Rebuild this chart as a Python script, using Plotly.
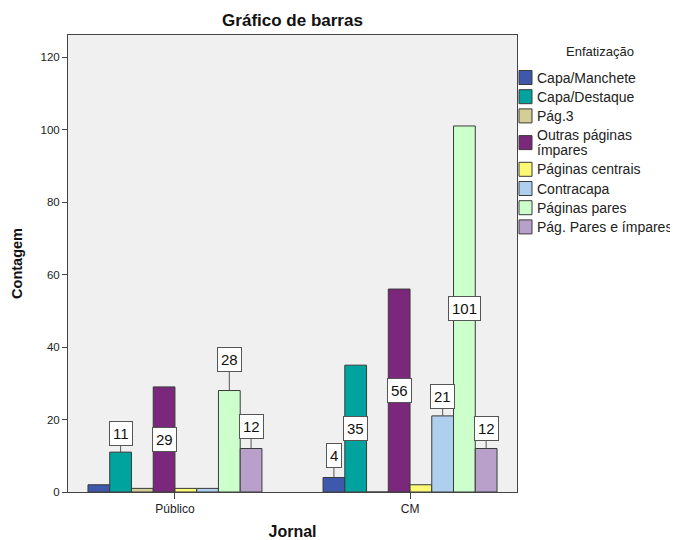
import plotly.graph_objects as go

# ---------------- data ----------------
jornais = ["Público", "CM"]
enfatizacao = [
    "Capa/Manchete",
    "Capa/Destaque",
    "Pág.3",
    "Outras páginas\nímpares",
    "Páginas centrais",
    "Contracapa",
    "Páginas pares",
    "Pág. Pares e ímpares",
]
publico = [2, 11, 1, 29, 1, 1, 28, 12]
cm = [4, 35, 0, 56, 2, 21, 101, 12]
y_ticks = [0, 20, 40, 60, 80, 100, 120]

# ---------------- style ----------------
colors = ["#3E58AC", "#00A39E", "#D4CE96", "#7B287C",
          "#FBF873", "#AED0EE", "#CCFFCC", "#B9A0CB"]
# label placement: "in" = centred inside bar, number = pixel offset above bar top
label_place = {
    ("Público", 1): -19, ("Público", 3): "in", ("Público", 6): -31, ("Público", 7): -22,
    ("CM", 0): -22, ("CM", 1): "in", ("CM", 3): "in", ("CM", 5): -19,
    ("CM", 6): "in", ("CM", 7): -20,
}
FONT = "Arial, Liberation Sans, sans-serif"
OFF = 8                      # page body margin
W, H = 678 - OFF, 540 - OFF  # figure size
# plot area in screen pixels
SL, SR, ST, SB = 68, 517, 35, 492
L, R, T, B = SL - OFF, SR - OFF, ST - OFF, SB - OFF
BARGAP = 0.26

series = {"Público": publico, "CM": cm}
n = len(enfatizacao)

fig = go.Figure()
for i, name in enumerate(enfatizacao):
    fig.add_trace(go.Bar(
        x=jornais,
        y=[series[j][i] for j in jornais],
        name=name.replace("\n", " "),
        marker=dict(color=colors[i], line=dict(color="#3a3a3a", width=1)),
        showlegend=False,
        hoverinfo="x+y+name",
    ))

# value labels
bw = (1 - BARGAP) / n
annotations = []
for gi, j in enumerate(jornais):
    for i in range(n):
        key = (j, i)
        if key not in label_place:
            continue
        v = series[j][i]
        xpos = gi + (i - (n - 1) / 2) * bw
        place = label_place[key]
        common = dict(x=xpos, xref="x", yref="y", text=str(v),
                      font=dict(family=FONT, size=15, color="#111"),
                      bgcolor="white", bordercolor="#555", borderwidth=1, borderpad=3)
        if place == "in":
            annotations.append(dict(y=v / 2, showarrow=False, **common))
        else:
            annotations.append(dict(y=v, showarrow=True, arrowhead=0, arrowwidth=1,
                                    arrowcolor="#555", ax=0, ay=place, standoff=0, **common))

# manual legend (positions given in screen pixels)
def px2paper(px, py):
    return (px - SL) / (SR - SL), (SB - py) / (SB - ST)

tx, ty = px2paper(600, 51)
annotations.append(dict(x=tx, y=ty, xref="paper", yref="paper", text="Enfatização",
                        showarrow=False, xanchor="center", yanchor="middle",
                        font=dict(family=FONT, size=13, color="#222")))
shapes = []
ycur = 77.5
step = 19.2
line_gap = 15
for i, name in enumerate(enfatizacao):
    lines = name.split("\n")
    nl = len(lines)
    center = ycur + (nl - 1) * line_gap / 2
    x0, y0 = px2paper(519, center - 7)
    x1, y1 = px2paper(532, center + 7)
    shapes.append(dict(type="rect", xref="paper", yref="paper", x0=x0, x1=x1, y0=y1, y1=y0,
                       fillcolor=colors[i], line=dict(color="#3a3a3a", width=1)))
    for k, ln in enumerate(lines):
        ax_, ay_ = px2paper(535, ycur + k * line_gap)
        annotations.append(dict(x=ax_, y=ay_, xref="paper", yref="paper", text=ln,
                                showarrow=False, xanchor="left", yanchor="middle",
                                font=dict(family=FONT, size=14, color="#222")))
    ycur += step + (nl - 1) * line_gap

fig.update_layout(
    width=W, height=H,
    margin=dict(l=L, r=W - R, t=T, b=H - B, autoexpand=False),
    barmode="group", bargap=BARGAP, bargroupgap=0,
    paper_bgcolor="white", plot_bgcolor="#F0F0F0",
    title=dict(text="<b>Gráfico de barras</b>", x=(L + R) / 2 / W, xanchor="center",
               y=1 - (20 - OFF) / H, yanchor="middle",
               font=dict(family=FONT, size=17, color="#111")),
    annotations=annotations,
    shapes=shapes,
    showlegend=False,
    font=dict(family=FONT, color="#222"),
)
fig.update_xaxes(
    type="category", range=[-0.455, 1.455],
    showline=True, linecolor="#444", linewidth=1, mirror=True,
    ticks="outside", ticklen=6, tickcolor="#444",
    tickfont=dict(family=FONT, size=12, color="#222"),
    showgrid=False, zeroline=False,
    title=dict(text="<b>Jornal</b>", font=dict(family=FONT, size=16, color="#111"), standoff=14),
)
fig.update_yaxes(
    range=[0, 126.1], tickvals=y_ticks,
    showline=True, linecolor="#444", linewidth=1, mirror=True,
    ticks="outside", ticklen=5, tickcolor="#444",
    tickfont=dict(family=FONT, size=11.5, color="#222"),
    showgrid=False, zeroline=False,
    title=dict(text="<b>Contagem</b>", font=dict(family=FONT, size=14.5, color="#111"), standoff=14),
)

fig.write_html("out.html")
